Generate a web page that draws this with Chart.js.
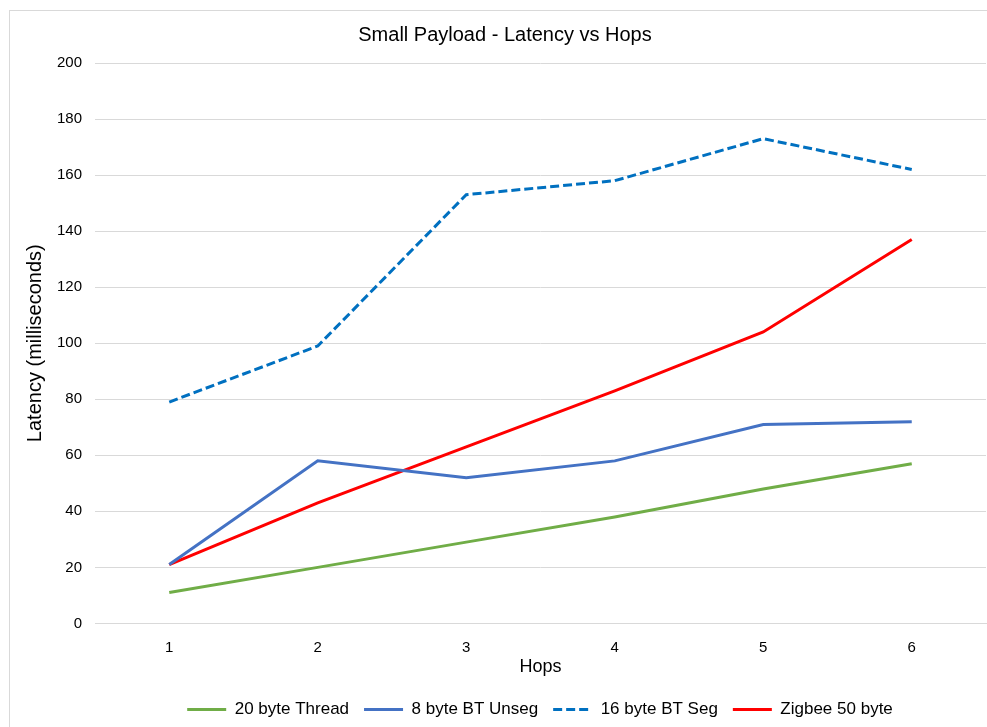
<!DOCTYPE html>
<html>
<head>
<meta charset="utf-8">
<script src="https://cdn.jsdelivr.net/npm/chart.js@4/dist/chart.umd.min.js"></script>
<style>
  html, body { margin: 0; padding: 0; background: #fff; overflow: hidden; width: 987px; height: 727px; }
  #box { position: absolute; left: 9px; top: 10px; width: 992px; height: 725px; border: 1px solid #d9d9d9; background: #fff; }
  #c { display: block; }
</style>
</head>
<body>
<div id="box"><canvas id="c" width="992" height="725"></canvas></div>
<script>
const hops = ['1', '2', '3', '4', '5', '6'];
const thread20 = [11, 20, 29, 38, 48, 57];
const btUnseg8 = [21, 58, 52, 58, 71, 72];
const btSeg16 = [79, 99, 153, 158, 173, 162];
const zigbee50 = [21, 43, 63, 83, 104, 137];
const yTicks = [0, 20, 40, 60, 80, 100, 120, 140, 160, 180, 200];

const FONT = '"Liberation Sans", Arial, sans-serif';

// shift title and legend boxes so they centre like the original
const boxShift = {
  id: 'boxShift',
  afterLayout(chart) {
    if (chart.titleBlock) { chart.titleBlock.left += 7; chart.titleBlock.right += 7; }
    if (chart.legend) { chart.legend.left += 42; chart.legend.right += 42; }
  }
};

const ctx = document.getElementById('c').getContext('2d');
new Chart(ctx, {
  type: 'line',
  data: {
    labels: hops,
    datasets: [
      { label: '20 byte Thread', data: thread20, borderColor: '#70AD47', backgroundColor: '#70AD47', borderWidth: 3, pointRadius: 0, tension: 0, pointStyle: 'line' },
      { label: '8 byte BT Unseg', data: btUnseg8, borderColor: '#4472C4', backgroundColor: '#4472C4', borderWidth: 3, pointRadius: 0, tension: 0, pointStyle: 'line' },
      { label: '16 byte BT Seg', data: btSeg16, borderColor: '#0070C0', backgroundColor: '#0070C0', borderWidth: 3, borderDash: [9, 4], pointRadius: 0, tension: 0, pointStyle: 'line' },
      { label: 'Zigbee 50 byte', data: zigbee50, borderColor: '#FF0000', backgroundColor: '#FF0000', borderWidth: 3, pointRadius: 0, tension: 0, pointStyle: 'line' }
    ]
  },
  plugins: [boxShift],
  options: {
    responsive: false,
    animation: false,
    events: [],
    layout: { padding: { left: 0, right: 16, top: 12, bottom: 8 } },
    plugins: {
      title: { display: true, text: 'Small Payload - Latency vs Hops', color: '#000', font: { family: FONT, size: 20, weight: 'normal' }, padding: { top: 0, bottom: 16 } },
      legend: {
        position: 'bottom',
        labels: {
          color: '#000', font: { family: FONT, size: 17 },
          usePointStyle: true, pointStyleWidth: 39, boxWidth: 39, boxHeight: 3, padding: 15,
          generateLabels(chart) {
            const items = Chart.defaults.plugins.legend.labels.generateLabels(chart);
            items.forEach(it => {
              const ds = chart.data.datasets[it.datasetIndex];
              it.lineDash = ds.borderDash || [];
              it.lineWidth = ds.borderWidth;
              it.strokeStyle = ds.borderColor;
            });
            return items;
          }
        }
      },
      tooltip: { enabled: false }
    },
    scales: {
      x: {
        offset: true,
        grid: { display: false, drawTicks: false },
        border: { display: true, color: '#d9d9d9', width: 1 },
        ticks: { color: '#000', font: { family: FONT, size: 15 }, padding: 15 },
        title: { display: true, text: 'Hops', color: '#000', font: { family: FONT, size: 18 }, padding: { top: -15, bottom: 8 } }
      },
      y: {
        min: 0, max: 200,
        afterBuildTicks: (s) => { s.ticks = yTicks.map(v => ({ value: v })); },
        afterFit: (s) => { s.width = 85; },
        grid: { color: '#d9d9d9', lineWidth: 1, drawTicks: false },
        border: { display: false },
        ticks: { color: '#000', font: { family: FONT, size: 15 }, padding: 13 },
        title: { display: true, text: 'Latency (milliseconds)', color: '#000', font: { family: FONT, size: 20 }, padding: { top: 13, bottom: 0 } }
      }
    }
  }
});
</script>
</body>
</html>
